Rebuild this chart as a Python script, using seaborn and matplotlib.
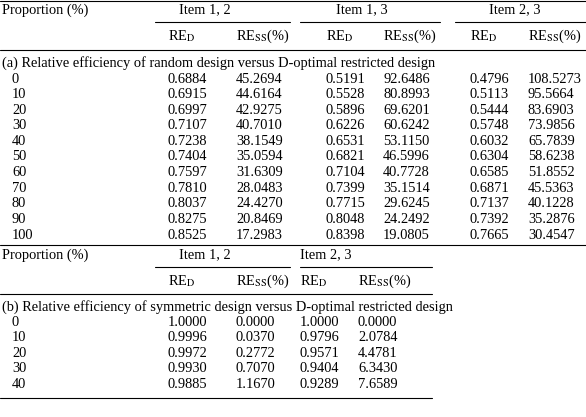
import matplotlib
matplotlib.use("Agg")
import matplotlib.pyplot as plt
import seaborn as sns

sns.set_theme(style="white")
plt.rcParams['font.family'] = ['Liberation Serif', 'DejaVu Serif']
plt.rcParams['mathtext.fontset'] = 'stix'

# table (a)
prop_a = ['0', '10', '20', '30', '40', '50', '60', '70', '80', '90', '100']
red_12 = ['0.6884', '0.6915', '0.6997', '0.7107', '0.7238', '0.7404', '0.7597', '0.7810', '0.8037', '0.8275', '0.8525']
ress_12 = ['45.2694', '44.6164', '42.9275', '40.7010', '38.1549', '35.0594', '31.6309', '28.0483', '24.4270', '20.8469', '17.2983']
red_13 = ['0.5191', '0.5528', '0.5896', '0.6226', '0.6531', '0.6821', '0.7104', '0.7399', '0.7715', '0.8048', '0.8398']
ress_13 = ['92.6486', '80.8993', '69.6201', '60.6242', '53.1150', '46.5996', '40.7728', '35.1514', '29.6245', '24.2492', '19.0805']
red_23 = ['0.4796', '0.5113', '0.5444', '0.5748', '0.6032', '0.6304', '0.6585', '0.6871', '0.7137', '0.7392', '0.7665']
ress_23 = ['108.5273', '95.5664', '83.6903', '73.9856', '65.7839', '58.6238', '51.8552', '45.5363', '40.1228', '35.2876', '30.4547']

# table (b)
prop_b = ['0', '10', '20', '30', '40']
b_red_12 = ['1.0000', '0.9996', '0.9972', '0.9930', '0.9885']
b_ress_12 = ['0.0000', '0.0370', '0.2772', '0.7070', '1.1670']
b_red_23 = ['1.0000', '0.9796', '0.9571', '0.9404', '0.9289']
b_ress_23 = ['0.0000', '2.0784', '4.4781', '6.3430', '7.6589']

W, H = 586, 417
fig = plt.figure(figsize=(W / 100, H / 100), dpi=100)
ax = fig.add_axes([0, 0, 1, 1])
ax.set_xlim(0, W)
ax.set_ylim(H, 0)
ax.axis('off')

fs = 10.4
RED = r'RE$_{\mathrm{D}}$'
RESS = r'RE$_{\mathrm{SS}}$(%)'

def txt(x, y, s, ha='left'):
    ax.text(x, y, s, ha=ha, va='center', fontsize=fs, color='black')

def hline(y, x0=0, x1=W, lw=0.8):
    ax.plot([x0, x1], [y, y], color='black', lw=lw)

cols = [2, 168, 236, 326, 383, 470, 528]

# part (a)
hline(0.5)
txt(2, 10, 'Proportion (%)')
txt(205, 10, 'Item 1, 2', 'center')
txt(362, 10, 'Item 1, 3', 'center')
txt(515, 10, 'Item 2, 3', 'center')
hline(22, 155, 290)
hline(22, 300, 440)
hline(22, 455, 586)
for x, s in zip(cols[1:], [RED, RESS, RED, RESS, RED, RESS]):
    txt(x, 36, s)
hline(50)
txt(2, 63, '(a) Relative efficiency of random design versus D-optimal restricted design')
for i, row in enumerate(zip(prop_a, red_12, ress_12, red_13, ress_13, red_23, ress_23)):
    y = 79 + i * 15.6
    txt(cols[0] + 10, y, row[0])
    for x, s in zip(cols[1:], row[1:]):
        txt(x, y, s)

# part (b)
hline(245)
txt(2, 255, 'Proportion (%)')
txt(205, 255, 'Item 1, 2', 'center')
txt(300, 255, 'Item 2, 3')
hline(267, 155, 290)
hline(267, 300, 432)
for x, s in zip([168, 236, 300, 358], [RED, RESS, RED, RESS]):
    txt(x, 281, s)
hline(294, 0, 432)
txt(2, 307, '(b) Relative efficiency of symmetric design versus D-optimal restricted design')
for i, row in enumerate(zip(prop_b, b_red_12, b_ress_12, b_red_23, b_ress_23)):
    y = 322 + i * 15.6
    txt(cols[0] + 10, y, row[0])
    for x, s in zip([168, 236, 300, 358], row[1:]):
        txt(x, y, s)
hline(398, 0, 432)

fig.savefig('out.png', dpi=100)
